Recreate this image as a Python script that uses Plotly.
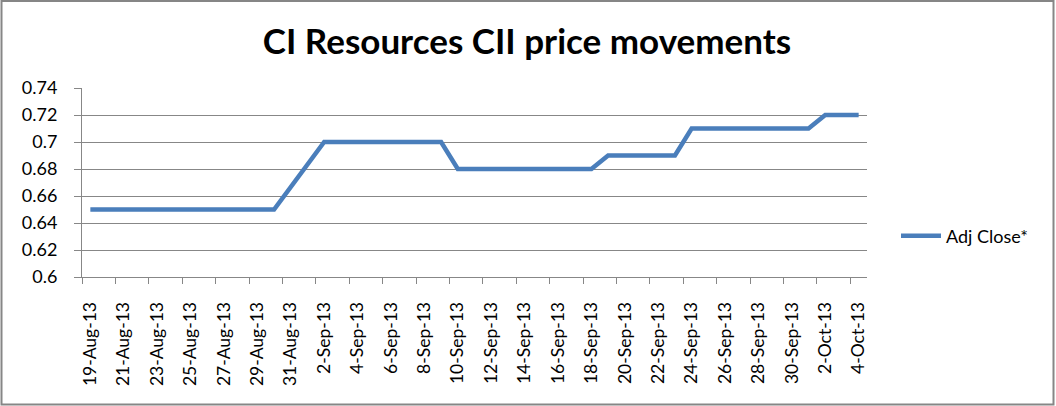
import pandas as pd
import plotly.graph_objects as go

# ---- data ----
dates = [
    "2013-08-19", "2013-08-20", "2013-08-21", "2013-08-22", "2013-08-23",
    "2013-08-26", "2013-08-27", "2013-08-28", "2013-08-29", "2013-08-30",
    "2013-09-02", "2013-09-03", "2013-09-04", "2013-09-05", "2013-09-06",
    "2013-09-09", "2013-09-10", "2013-09-11", "2013-09-12", "2013-09-13",
    "2013-09-16", "2013-09-17", "2013-09-18", "2013-09-19", "2013-09-20",
    "2013-09-23", "2013-09-24", "2013-09-25", "2013-09-26", "2013-09-27",
    "2013-09-30", "2013-10-01", "2013-10-02", "2013-10-03", "2013-10-04",
]
adj_close = [
    0.65, 0.65, 0.65, 0.65, 0.65,
    0.65, 0.65, 0.65, 0.65, 0.65,
    0.70, 0.70, 0.70, 0.70, 0.70,
    0.70, 0.68, 0.68, 0.68, 0.68,
    0.68, 0.68, 0.68, 0.69, 0.69,
    0.69, 0.71, 0.71, 0.71, 0.71,
    0.71, 0.71, 0.72, 0.72, 0.72,
]
series_name = "Adj Close*"
title_text = "CI Resources CII price movements"
y_tick_values = [0.6, 0.62, 0.64, 0.66, 0.68, 0.7, 0.72, 0.74]
y_tick_labels = ["0.6", "0.62", "0.64", "0.66", "0.68", "0.7", "0.72", "0.74"]

# ---- axis helpers (styling) ----
x_start = pd.Timestamp("2013-08-19")
x_end = pd.Timestamp("2013-10-04")
half = pd.Timedelta(hours=12)
label_dates = pd.date_range(x_start, x_end, freq="2D")
tick_marks = pd.date_range(x_start - half, x_end, freq="2D")

FONT = "Lato, 'Open Sans', sans-serif"
GRID = "#878787"
LINE_BLUE = "#4a7ebb"

fig = go.Figure()
fig.add_trace(go.Scatter(
    x=pd.to_datetime(dates), y=adj_close, mode="lines", name=series_name,
    line=dict(color=LINE_BLUE, width=4.5),
))

W, H = 1056, 406
L, R, T, B = 82, 189, 88, 129
fig.update_layout(
    width=W, height=H,
    margin=dict(l=L, r=R, t=T, b=B, autoexpand=False),
    paper_bgcolor="white", plot_bgcolor="white",
    font=dict(family=FONT, color="#000000", size=18),
    title=dict(text="<b>" + title_text + "</b>", x=527 / W, xanchor="center",
               y=1 - 42 / H, yanchor="middle", yref="container",
               font=dict(family=FONT, size=35, color="#000000")),
    showlegend=True,
    legend=dict(x=(896 - L) / (W - L - R), y=(H - B - 236) / (H - T - B),
                xanchor="left", yanchor="middle", itemwidth=40,
                font=dict(family=FONT, size=18, color="#000000"),
                bgcolor="rgba(0,0,0,0)"),
    xaxis=dict(
        type="date", automargin=False,
        range=[x_start - half, x_end + half],
        tickmode="array", tickvals=label_dates, tickformat="%-d-%b-%y",
        tickangle=-90, ticks="", ticklabelstandoff=17,
        tickfont=dict(family=FONT, size=17.5, color="#000000"),
        showgrid=False, zeroline=False,
        showline=True, linecolor=GRID, linewidth=1,
        minor=dict(tickmode="array", tickvals=tick_marks, ticks="outside",
                   ticklen=6, tickcolor=GRID, tickwidth=1, showgrid=False),
    ),
    yaxis=dict(
        range=[0.6, 0.74], automargin=False,
        tickmode="array", tickvals=y_tick_values, ticktext=y_tick_labels,
        ticks="outside", ticklen=7, tickcolor=GRID, ticklabelstandoff=13,
        tickfont=dict(family=FONT, size=18, color="#000000"),
        showgrid=True, gridcolor=GRID, gridwidth=1,
        zeroline=False, showline=True, linecolor=GRID, linewidth=1,
    ),
)

# outer chart border
pw, ph = W - L - R, H - T - B
fig.add_shape(type="rect", xref="paper", yref="paper",
              x0=(1.5 - L) / pw, x1=(1053.5 - L) / pw,
              y0=(H - B - 404.5) / ph, y1=(H - B - 1) / ph,
              line=dict(color="#868686", width=2), fillcolor="rgba(0,0,0,0)",
              layer="below")

fig.write_html(
    "out.html",
    config={"displayModeBar": False},
    post_script="document.body.style.margin='0px';document.body.style.overflow='hidden';",
)
